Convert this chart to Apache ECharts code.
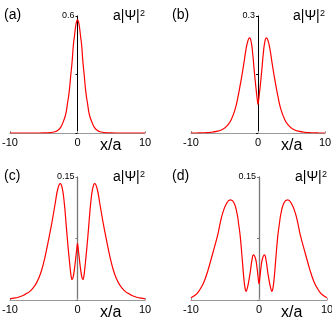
<!DOCTYPE html>
<html>
<head>
<meta charset="utf-8">
<script src="https://cdn.jsdelivr.net/npm/echarts@6/dist/echarts.min.js"></script>
<style>
  html, body { margin: 0; padding: 0; background: #fff; }
  #main { width: 332px; height: 322px; }
</style>
</head>
<body>
<div id="main"></div>
<script>
// values, panel by panel
var panelNames = ['(a)', '(b)', '(c)', '(d)'];
var yMax = [0.6, 0.3, 0.15, 0.15];
var xTicks = [-10, 0, 10];

var xA = [-10, -8, -6, -5, -4, -3.5, -3, -2.5, -2, -1.75, -1.5, -1.25, -1, -0.8, -0.6, -0.45, -0.3, -0.15, 0,
          0.15, 0.3, 0.45, 0.6, 0.8, 1, 1.25, 1.5, 1.75, 2, 2.5, 3, 3.5, 4, 5, 6, 8, 10];
var yA = [0, 0, 0.0001, 0.0004, 0.002, 0.005, 0.012, 0.029, 0.068, 0.095, 0.148, 0.206, 0.295, 0.365, 0.455, 0.497, 0.54, 0.57, 0.58,
          0.57, 0.54, 0.497, 0.455, 0.365, 0.295, 0.206, 0.148, 0.095, 0.068, 0.029, 0.012, 0.005, 0.002, 0.0004, 0.0001, 0, 0];

var xB = [-10, -9, -8, -7, -6, -5.5, -5, -4.5, -4, -3.4, -3, -2.7, -2.4, -2.1, -1.8, -1.5, -1.25, -1, -0.8, -0.55, -0.3, -0.1, 0,
          0.1, 0.3, 0.55, 0.8, 1, 1.25, 1.5, 1.8, 2.1, 2.4, 2.7, 3, 3.4, 4, 4.5, 5, 5.5, 6, 7, 8, 9, 10];
var yB = [0, 0.0002, 0.0006, 0.0017, 0.0046, 0.0076, 0.0125, 0.0206, 0.034, 0.062, 0.092, 0.119, 0.148, 0.18, 0.213, 0.237, 0.244, 0.232, 0.205, 0.158, 0.115, 0.085, 0.073,
          0.085, 0.115, 0.158, 0.205, 0.232, 0.244, 0.237, 0.213, 0.18, 0.148, 0.119, 0.092, 0.062, 0.034, 0.0206, 0.0125, 0.0076, 0.0046, 0.0017, 0.0006, 0.0002, 0];

var xC = [-10, -9.4, -8.8, -8, -7.5, -7.06, -6.6, -6.2, -5.8, -5.33, -4.8, -4.2, -3.8, -3.3, -2.9, -2.55, -2.25, -1.93, -1.75, -1.53, -1.25, -1.05, -0.92, -0.79, -0.62, -0.45, -0.25, -0.1, 0,
          0.1, 0.25, 0.45, 0.62, 0.79, 0.92, 1.05, 1.25, 1.53, 1.75, 1.93, 2.25, 2.55, 2.9, 3.3, 3.8, 4.2, 4.8, 5.33, 5.8, 6.2, 6.6, 7.06, 7.5, 8, 8.8, 9.4, 10];
var yC = [0.0014, 0.0022, 0.0033, 0.0057, 0.0081, 0.0105, 0.0145, 0.019, 0.0255, 0.036, 0.053, 0.077, 0.094, 0.118, 0.136, 0.142, 0.136, 0.116, 0.099, 0.077, 0.052, 0.036, 0.028, 0.025, 0.029, 0.038, 0.052, 0.063, 0.069,
          0.063, 0.052, 0.038, 0.029, 0.025, 0.028, 0.036, 0.052, 0.077, 0.099, 0.116, 0.136, 0.142, 0.136, 0.118, 0.094, 0.077, 0.053, 0.036, 0.0255, 0.019, 0.0145, 0.0105, 0.0081, 0.0057, 0.0033, 0.0022, 0.0014];

var xD = [-10, -9.26, -9, -8.4, -8, -7.55, -6.8, -6.08, -5.7, -5.34, -4.75, -4.22, -3.7, -3.24, -3, -2.75, -2.45, -2.2, -2.05, -1.9, -1.75, -1.55, -1.3, -1.05, -0.8, -0.5, -0.3, -0.12, 0,
          0.12, 0.3, 0.5, 0.8, 1.05, 1.3, 1.55, 1.75, 1.9, 2.05, 2.2, 2.45, 2.75, 3, 3.24, 3.7, 4.22, 4.75, 5.34, 5.7, 6.08, 6.8, 7.55, 8, 8.4, 9, 9.26, 10];
var yD = [0.0027, 0.0068, 0.009, 0.0167, 0.024, 0.035, 0.057, 0.079, 0.094, 0.106, 0.118, 0.122, 0.119, 0.106, 0.093, 0.077, 0.048, 0.024, 0.0145, 0.0105, 0.0135, 0.021, 0.033, 0.048, 0.055, 0.05, 0.04, 0.027, 0.02,
          0.027, 0.04, 0.05, 0.055, 0.048, 0.033, 0.021, 0.0135, 0.0105, 0.0145, 0.024, 0.048, 0.077, 0.093, 0.106, 0.119, 0.122, 0.118, 0.106, 0.094, 0.079, 0.057, 0.035, 0.024, 0.0167, 0.009, 0.0068, 0.0027];

var xs = [xA, xB, xC, xD];
var ys = [yA, yB, yC, yD];

// plot boxes and the colour of each vertical axis
var grids = [
  { left: 10, top: 16, width: 135, height: 117, outerBoundsMode: 'none' },
  { left: 191, top: 16, width: 134, height: 117, outerBoundsMode: 'none' },
  { left: 10, top: 177, width: 135, height: 123, outerBoundsMode: 'none' },
  { left: 191, top: 177, width: 136, height: 123, outerBoundsMode: 'none' }
];
var yAxisColor = ['#000', '#000', '#777', '#777'];
var font = 'Liberation Sans, Arial, sans-serif';

var chart = echarts.init(document.getElementById('main'));

var xAxes = [], yAxes = [], series = [], graphics = [];
for (var i = 0; i < 4; i++) {
  var g = grids[i];
  xAxes.push({
    gridIndex: i, type: 'value', min: xTicks[0], max: xTicks[2], interval: 10,
    axisLine: { onZero: false, lineStyle: { color: '#999', width: 1 } },
    axisTick: { show: true, inside: true, length: 2, lineStyle: { color: '#999' } },
    axisLabel: { fontSize: 11, color: '#000', margin: 4, fontFamily: font },
    splitLine: { show: false }
  });
  (function (m) {
    // vertical axis drawn through x = 0, the middle of the box
    yAxes.push({
      gridIndex: i, type: 'value', min: 0, max: m, interval: m / 2,
      position: 'left', offset: -g.width / 2,
      axisLine: { show: true, onZero: false, lineStyle: { color: yAxisColor[i], width: i < 2 ? 1 : 1.3 } },
      axisTick: { show: true, inside: false, length: 2, lineStyle: { color: yAxisColor[i] } },
      axisLabel: {
        fontSize: 9, color: '#000', margin: 3, fontFamily: font,
        formatter: function (v) { return Math.abs(v - m) < 1e-9 ? String(m) : ''; }
      },
      splitLine: { show: false }
    });
  })(yMax[i]);
  series.push({
    type: 'line', xAxisIndex: i, yAxisIndex: i, showSymbol: false, smooth: 0.5,
    lineStyle: { color: '#ff0000', width: 1.2 },
    data: xs[i].map(function (x, j) { return [x, ys[i][j]]; }),
    z: 3
  });

  var col = i % 2 === 0 ? 0 : 168;
  graphics.push({ type: 'text', left: col + 4, top: g.top - 8,
    style: { text: panelNames[i], fontSize: 14, fontFamily: font, fill: '#000' } });
  graphics.push({ type: 'text', left: g.left + g.width - 32, top: g.top - 7,
    style: { text: 'a|\u03A8|', fontSize: 14, fontFamily: font, fill: '#000' } });
  graphics.push({ type: 'text', left: g.left + g.width - 5, top: g.top - 7,
    style: { text: '2', fontSize: 9, fontFamily: font, fill: '#000' } });
  graphics.push({ type: 'text', left: g.left + 90, top: g.top + g.height + 5,
    style: { text: 'x/a', fontSize: 16, fontFamily: font, fill: '#000' } });
}

chart.setOption({
  animation: false,
  grid: grids,
  xAxis: xAxes,
  yAxis: yAxes,
  series: series,
  graphic: graphics
});
</script>
</body>
</html>
